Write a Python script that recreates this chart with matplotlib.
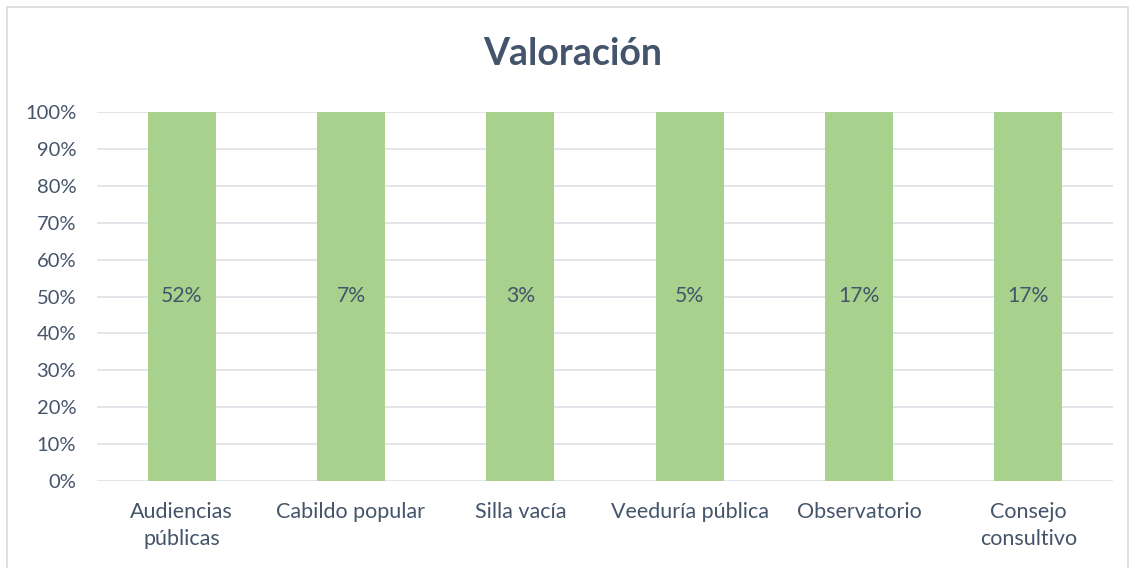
import numpy as np
import matplotlib.pyplot as plt
from matplotlib.patches import Rectangle
from matplotlib.ticker import PercentFormatter

# Data
categories = ['Audiencias\npúblicas', 'Cabildo popular', 'Silla vacía',
              'Veeduría pública', 'Observatorio', 'Consejo\nconsultivo']
values = [52, 7, 3, 5, 17, 17]
yticks = [0, 0.1, 0.2, 0.3, 0.4, 0.5, 0.6, 0.7, 0.8, 0.9, 1.0]

text_color = '#44546A'
bar_color = '#A9D18E'
grid_color = '#DFE3E8'

plt.rcParams['font.family'] = ['Lato', 'DejaVu Sans']

fig = plt.figure(figsize=(11.33, 5.68), dpi=100)

# Chart area border (bottom edge falls outside the picture)
fig.patches.append(Rectangle((7 / 1133, -10 / 568), 1121 / 1133, 571 / 568,
                             transform=fig.transFigure, fill=False,
                             edgecolor='#D9D9D9', linewidth=1.2))

ax = fig.add_axes([97 / 1133, 1 - 481 / 568, 1016 / 1133, 369 / 568])

# 100% stacked with a single series: every bar is the full category share
x = np.arange(len(categories))
shares = [v / v for v in values]
bars = ax.bar(x, shares, width=0.4, color=bar_color, zorder=3)

for xi, v in zip(x, values):
    ax.text(xi, 0.5, f'{v}%', ha='center', va='center', fontsize=15.2,
            color=text_color, zorder=4)

ax.set_xlim(-0.5, len(categories) - 0.5)
ax.set_ylim(0, 1)
ax.set_yticks(yticks)
ax.yaxis.set_major_formatter(PercentFormatter(1.0, decimals=0))
ax.set_xticks(x)
ax.set_xticklabels(categories, linespacing=1.45)
ax.tick_params(axis='y', length=0, labelsize=14.5, labelcolor=text_color, pad=15)
ax.tick_params(axis='x', length=0, labelsize=15.5, labelcolor=text_color, pad=15)

ax.grid(axis='y', color=grid_color, linewidth=1.3, zorder=0)
for s in ax.spines.values():
    s.set_visible(False)

fig.text(573 / 1133, 1 - 54 / 568, 'Valoración', ha='center', va='center',
         fontsize=27, fontweight='bold', color=text_color)

fig.savefig('out.png', dpi=100)
